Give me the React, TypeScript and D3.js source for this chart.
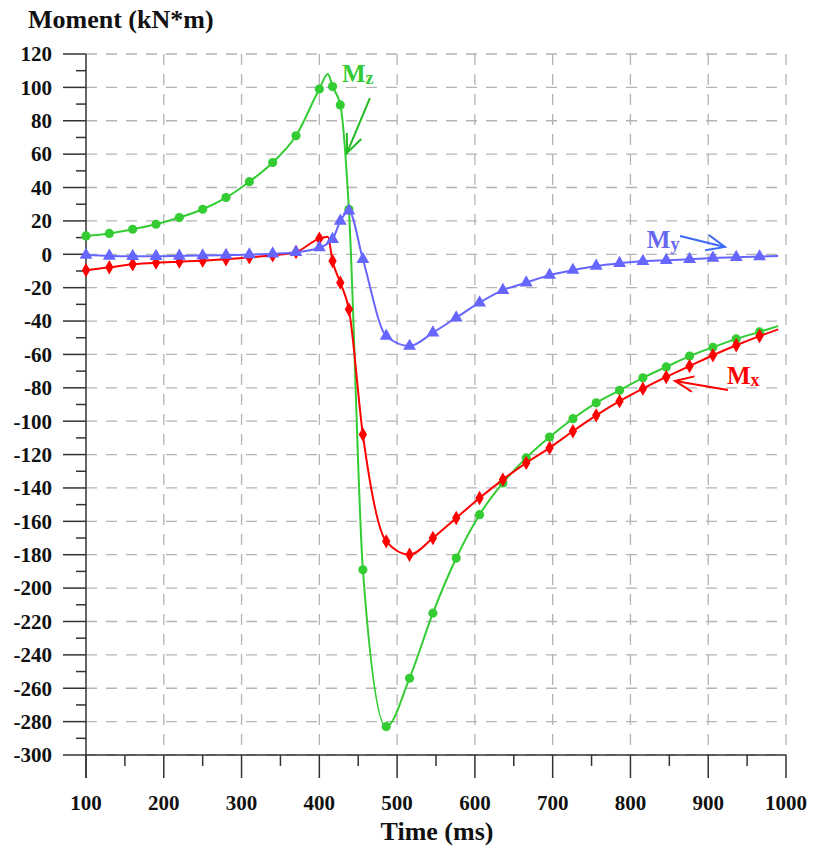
import React from "react";
import * as d3 from "d3";

// sample times where markers sit (ms)
const times = [100, 130, 160, 190, 220, 250, 280, 310, 340, 370, 400, 417, 427, 438, 456, 486, 516, 546, 576, 606, 636, 666, 696, 726, 756, 786, 816, 846, 876, 906, 936, 966];

// moments (kN*m)
const mzValues = [11, 12.5, 15, 18, 22, 27, 34, 43.5, 55, 71, 99, 100.5, 89.5, 27, -189, -283, -254, -215, -182, -156, -137, -122, -109.5, -98.5, -89, -81.5, -74, -67.5, -61, -55.7, -50.7, -46.5];
const mxValues = [-9.5, -7.8, -6, -5, -4.4, -3.8, -3, -1.8, -0.6, 1.4, 9.4, -4, -17, -33, -108, -172, -180, -170, -158, -146, -135, -125, -116, -106, -96.5, -88, -80.5, -73.5, -67, -60.5, -54.5, -49];
const myValues = [-0.5, -1, -1.2, -1.2, -1, -0.8, -0.5, -0.2, 0.3, 1.2, 4, 9, 20, 26, -3, -49, -55, -47, -38, -29, -21.5, -17, -12.5, -9.5, -7, -5.4, -4.2, -3.6, -3, -2.2, -1.8, -1.4];

// line-only knots (no marker)
const mzExtra = [[411, 108], [990, -43]];
const mxExtra = [[411, 10.5], [990, -45]];
const myExtra = [[990, -1]];

const xTicks = [100, 200, 300, 400, 500, 600, 700, 800, 900, 1000];
const xMinor = [150, 250, 350, 450, 550, 650, 750, 850, 950];
const yTicks = [120, 100, 80, 60, 40, 20, 0, -20, -40, -60, -80, -100, -120, -140, -160, -180, -200, -220, -240, -260, -280, -300];
const yMinor = [110, 90, 70, 50, 30, 10, -10, -30, -50, -70, -90, -110, -130, -150, -170, -190, -210, -230, -250, -270, -290];

const series = [
  { name: "z", values: mzValues, extra: mzExtra, color: "#33cc33", symbol: d3.symbolCircle, size: 66 },
  { name: "x", values: mxValues, extra: mxExtra, color: "#ff0000", symbol: d3.symbolDiamond, size: 60 },
  { name: "y", values: myValues, extra: myExtra, color: "#6666ff", symbol: d3.symbolTriangle, size: 72 },
];

// labels + arrows, in data units
const notes = [
  { sub: "z", color: "#33cc33", arrow: "#22bb22", at: [429, 103], from: [465, 93.6], tip: [435.6, 60.7] },
  { sub: "y", color: "#6666ee", arrow: "#3a6af8", at: [821, 3.8], from: [863.7, 11], tip: [921.5, 4.4] },
  { sub: "x", color: "#ff0000", arrow: "#ff0000", at: [924, -77.7], from: [925.4, -81.3], tip: [857.3, -75.9] },
];

const W = 813, H = 850;
const font = "'Liberation Serif', 'Times New Roman', serif";

export default function App() {
  const x = d3.scaleLinear().domain([100, 1000]).range([86, 786]);
  const y = d3.scaleLinear().domain([-300, 120]).range([755, 54]);

  const line = d3.line<number[]>()
    .x(d => x(d[0]))
    .y(d => y(d[1]))
    .curve(d3.curveMonotoneX);

  const arrowHead = (n: typeof notes[0]) => {
    const tx = x(n.tip[0]), ty = y(n.tip[1]);
    const fx = x(n.from[0]), fy = y(n.from[1]);
    const a = Math.atan2(fy - ty, fx - tx);
    const L = 20, s = (23 * Math.PI) / 180;
    return `M${tx + L * Math.cos(a - s)},${ty + L * Math.sin(a - s)}L${tx},${ty}L${tx + L * Math.cos(a + s)},${ty + L * Math.sin(a + s)}`;
  };

  return (
    <svg width={W} height={H} style={{ position: "absolute", left: 0, top: 0, background: "#fff" }}>
      {/* grid */}
      <g stroke="#b4b4b4" strokeWidth={1.3} strokeDasharray="11,9">
        {yTicks.map(t => (
          <line key={"gy" + t} x1={x(100)} x2={x(1000)} y1={y(t)} y2={y(t)} />
        ))}
        {xTicks.filter(t => t > 100).map(t => (
          <line key={"gx" + t} x1={x(t)} x2={x(t)} y1={y(120)} y2={y(-300)} />
        ))}
      </g>

      {/* axes */}
      <g stroke="#333" strokeWidth={1.5}>
        <line x1={x(100)} x2={x(100)} y1={y(120)} y2={y(-300) + 23} />
        <line x1={x(100)} x2={x(1000)} y1={y(-300)} y2={y(-300)} />
        {yTicks.map(t => (
          <line key={"ty" + t} x1={x(100) - 23} x2={x(100)} y1={y(t)} y2={y(t)} />
        ))}
        {yMinor.map(t => (
          <line key={"my" + t} x1={x(100) - 10} x2={x(100)} y1={y(t)} y2={y(t)} />
        ))}
        {xTicks.map(t => (
          <line key={"tx" + t} x1={x(t)} x2={x(t)} y1={y(-300)} y2={y(-300) + 23} />
        ))}
        {xMinor.map(t => (
          <line key={"mx" + t} x1={x(t)} x2={x(t)} y1={y(-300)} y2={y(-300) + 11} />
        ))}
      </g>

      <g fontFamily={font} fontWeight="bold" fontSize={21} fill="#111">
        {yTicks.map(t => (
          <text key={"ly" + t} x={52} y={y(t)} dy="0.35em" textAnchor="end">{t}</text>
        ))}
        {xTicks.map(t => (
          <text key={"lx" + t} x={x(t)} y={810} textAnchor="middle">{t}</text>
        ))}
        <text x={28} y={28} fontSize={26}>Moment (kN*m)</text>
        <text x={437} y={840} fontSize={26} textAnchor="middle">Time (ms)</text>
      </g>

      {/* series */}
      {series.map(s => {
        const pts = times.map((t, i) => [t, s.values[i]]).concat(s.extra).sort((a, b) => a[0] - b[0]);
        const sym = d3.symbol().type(s.symbol).size(s.size)();
        return (
          <g key={s.name}>
            <path d={line(pts) || ""} fill="none" stroke={s.color} strokeWidth={2} />
            {times.map((t, i) => (
              <path key={i} d={sym || ""} transform={`translate(${x(t)},${y(s.values[i])})`} fill={s.color} />
            ))}
          </g>
        );
      })}

      {/* annotations */}
      {notes.map(n => (
        <g key={n.sub}>
          <line x1={x(n.from[0])} y1={y(n.from[1])} x2={x(n.tip[0])} y2={y(n.tip[1])} stroke={n.arrow} strokeWidth={2} />
          <path d={arrowHead(n)} fill="none" stroke={n.arrow} strokeWidth={2} />
          <text x={x(n.at[0])} y={y(n.at[1])} fill={n.color} fontFamily={font} fontWeight="bold" fontSize={25}>
            M<tspan fontSize={18} dy={2}>{n.sub}</tspan>
          </text>
        </g>
      ))}
    </svg>
  );
}
